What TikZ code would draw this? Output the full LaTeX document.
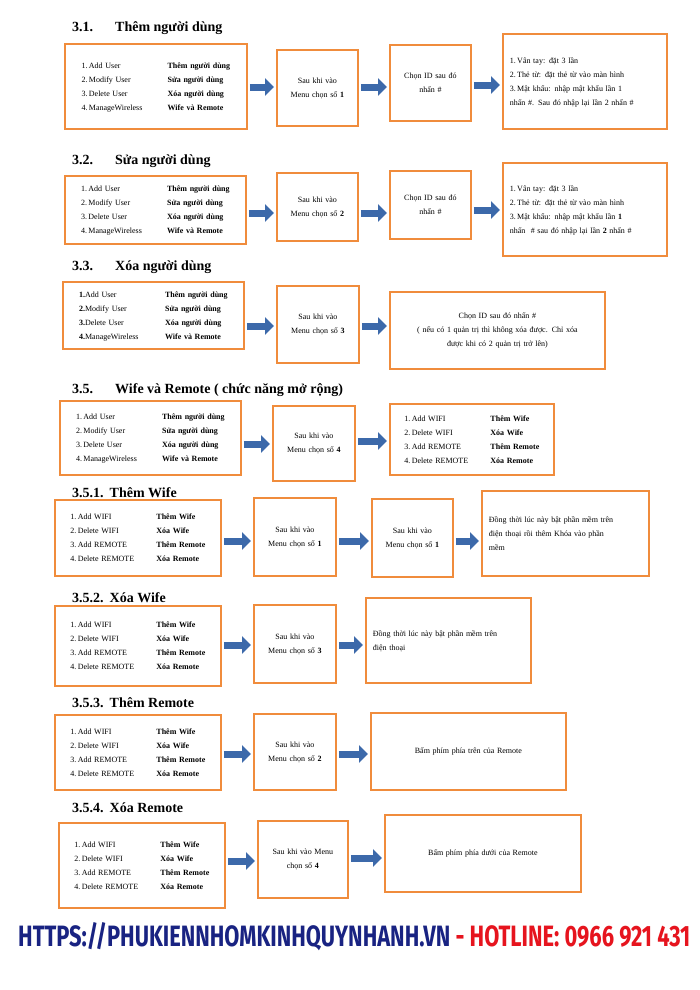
\documentclass[tikz,border=0pt]{standalone}
\usepackage{fontspec}
\setmainfont{Liberation Serif}
\newfontfamily\ftr{Fira Sans}
\usetikzlibrary{arrows.meta}
\definecolor{org}{RGB}{240,140,60}
\definecolor{arb}{RGB}{60,105,170}
\definecolor{ftblue}{RGB}{25,35,130}
\definecolor{ftred}{RGB}{230,20,30}
\tikzset{
 box/.style={draw=org,line width=1.8pt,fill=white,anchor=north west,inner sep=0pt,font=\fontsize{8}{14}\selectfont,align=center},
 barrow/.style={draw=arb,line width=7pt,-{Triangle[width=17pt,length=9pt]}},
 head/.style={anchor=base west,font=\fontsize{14}{16}\selectfont\bfseries,inner sep=0pt}
}
\newcommand{\bx}[6]{\node[box,minimum width={(#4-#2)*1pt},minimum height={(#5-#3)*1pt},text width={(#4-#2-14)*1pt}] (#1) at (#2,#3) {#6};}
\newcommand{\arr}[3]{\draw[barrow] (#1.east|-0,#3) ++(2pt,0) -- ([xshift=-2pt]#2.west|-0,#3);}
\newcommand{\mymenu}[1]{\begin{tabular}{@{}p{86pt}@{}l@{}}#1\end{tabular}}
\newcommand{\lft}[1]{\begin{tabular}{@{}l@{}}#1\end{tabular}\hfill\null}
\newcommand{\usermenu}{\mymenu{1.\,Add User & \textbf{Thêm người dùng}\\ 2.\,Modify User & \textbf{Sửa người dùng}\\ 3.\,Delete User & \textbf{Xóa người dùng}\\ 4.\,ManageWireless & \textbf{Wife và Remote}}}
\newcommand{\wifimenu}{\mymenu{1.\,Add WIFI & \textbf{Thêm Wife}\\ 2.\,Delete WIFI & \textbf{Xóa Wife}\\ 3.\,Add REMOTE & \textbf{Thêm Remote}\\ 4.\,Delete REMOTE & \textbf{Xóa Remote}}}
\begin{document}
\begin{tikzpicture}[x=1pt,y=-1pt]
\useasboundingbox[fill=white] (0,0) rectangle (700,990);
% 3.1
\node[head] (h1) at (72,32) {3.1.\hspace{22pt}Thêm người dùng};
\bx{a1}{64}{43}{246}{128}{\usermenu}
\bx{b1}{276}{49}{357}{125}{Sau khi vào\\Menu chọn số \textbf{1}}
\bx{c1}{389}{44}{470}{120}{Chọn ID sau đó\\nhấn \#\\[10pt]}
\bx{d1}{502}{33}{666}{128}{\lft{1.\,Vân tay: đặt 3 lần\\2.\,Thẻ từ: đặt thẻ từ vào màn hình\\3.\,Mật khẩu: nhập mật khẩu lần 1\\nhấn \#. Sau đó nhập lại lần 2 nhấn \#}}
\arr{a1}{b1}{87}\arr{b1}{c1}{87}\arr{c1}{d1}{85}
% 3.2
\node[head] (h2) at (72,164) {3.2.\hspace{22pt}Sửa người dùng};
\bx{a2}{64}{175}{245}{243}{\usermenu}
\bx{b2}{276}{172}{357}{240}{Sau khi vào\\Menu chọn số \textbf{2}}
\bx{c2}{389}{170}{470}{238}{Chọn ID sau đó\\nhấn \#\\[8pt]}
\bx{d2}{502}{162}{666}{255}{\lft{1.\,Vân tay: đặt 3 lần\\2.\,Thẻ từ: đặt thẻ từ vào màn hình\\3.\,Mật khẩu: nhập mật khẩu lần \textbf{1}\\nhấn~ \# sau đó nhập lại lần \textbf{2} nhấn \#}}
\arr{a2}{b2}{213}\arr{b2}{c2}{213}\arr{c2}{d2}{210}
% 3.3
\node[head] (h3) at (72,270) {3.3.\hspace{22pt}Xóa người dùng};
\bx{a3}{62}{281}{243}{348}{\mymenu{\textbf{1.}Add User & \textbf{Thêm người dùng}\\ \textbf{2.}Modify User & \textbf{Sửa người dùng}\\ \textbf{3.}Delete User & \textbf{Xóa người dùng}\\ \textbf{4.}ManageWireless & \textbf{Wife và Remote}}}
\bx{b3}{276}{285}{358}{362}{Sau khi vào\\Menu chọn số \textbf{3}}
\bx{c3}{389}{291}{604}{368}{Chọn ID sau đó nhấn \#\\( nếu có 1 quản trị thì không xóa được. Chỉ xóa\\được khi có 2 quản trị trở lên)}
\arr{a3}{b3}{326}\arr{b3}{c3}{326}
% 3.5
\node[head] (h4) at (72,393) {3.5.\hspace{22pt}Wife và Remote ( chức năng mở rộng)};
\bx{a4}{59}{400}{240}{474}{\usermenu}
\bx{b4}{272}{405}{354}{480}{Sau khi vào\\Menu chọn số \textbf{4}}
\bx{c4}{389}{403}{553}{474}{\wifimenu}
\arr{a4}{b4}{444}\arr{b4}{c4}{441}
% 3.5.1
\node[head] (h5) at (72,497) {3.5.1.\hspace{6pt}Thêm Wife};
\bx{a5}{54}{499}{220}{575}{\wifimenu}
\bx{b5}{253}{497}{335}{575}{Sau khi vào\\Menu chọn số \textbf{1}}
\bx{c5}{371}{498}{452}{576}{Sau khi vào\\Menu chọn số \textbf{1}}
\bx{d5}{481}{490}{648}{575}{\lft{Đồng thời lúc này bật phần mềm trên\\điện thoại rồi thêm Khóa vào phần\\mềm}\\[22pt]}
\arr{a5}{b5}{541}\arr{b5}{c5}{541}\arr{c5}{d5}{541}
% 3.5.2
\node[head] (h6) at (72,602) {3.5.2.\hspace{6pt}Xóa Wife};
\bx{a6}{54}{605}{220}{685}{\wifimenu}
\bx{b6}{253}{604}{335}{682}{Sau khi vào\\Menu chọn số \textbf{3}}
\bx{c6}{365}{597}{530}{682}{\lft{Đồng thời lúc này bật phần mềm trên\\điện thoại}\\[30pt]}
\arr{a6}{b6}{645}\arr{b6}{c6}{645}
% 3.5.3
\node[head] (h7) at (72,707) {3.5.3.\hspace{6pt}Thêm Remote};
\bx{a7}{54}{714}{220}{789}{\wifimenu}
\bx{b7}{253}{713}{335}{789}{Sau khi vào\\Menu chọn số \textbf{2}}
\bx{c7}{370}{712}{565}{789}{Bấm phím phía trên của Remote\\[8pt]}
\arr{a7}{b7}{754}\arr{b7}{c7}{754}
% 3.5.4
\node[head] (h8) at (72,812) {3.5.4.\hspace{6pt}Xóa Remote};
\bx{a8}{58}{822}{224}{907}{\wifimenu}
\bx{b8}{257}{820}{347}{897}{Sau khi vào Menu\\chọn số \textbf{4}}
\bx{c8}{384}{814}{580}{891}{Bấm phím phía dưới của Remote\\[12pt]}
\arr{a8}{b8}{861}\arr{b8}{c8}{858}
% footer
\node[anchor=west,inner sep=0pt] (ft) at (18,937) {\resizebox{672pt}{24pt}{\ftr\bfseries\color{ftblue}HTTPS://PHUKIENNHOMKINHQUYNHANH.VN \color{ftred}- HOTLINE: 0966 921 431}};
\end{tikzpicture}
\end{document}
